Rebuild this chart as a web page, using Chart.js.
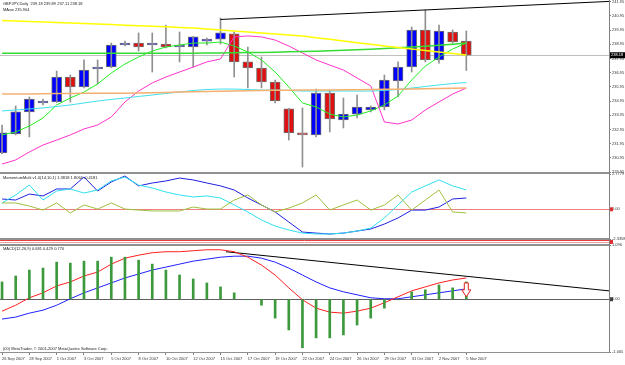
<!DOCTYPE html>
<html>
<head>
<meta charset="utf-8">
<script src="https://cdn.jsdelivr.net/npm/chart.js@4.4.0/dist/chart.umd.min.js"></script>
<style>
  html, body { margin: 0; padding: 0; background: #fff; }
</style>
</head>
<body>
<canvas id="chart" width="625" height="365"></canvas>
<script>
// ---- data ----
var dateTicks = [0, 2, 4, 6, 8, 10, 12, 14, 16, 18, 20, 22, 24, 26, 28, 30, 32, 34];
var dateLabels = ["26 Sep 2007", "28 Sep 2007", "1 Oct 2007", "3 Oct 2007", "5 Oct 2007", "8 Oct 2007",
  "10 Oct 2007", "12 Oct 2007", "15 Oct 2007", "17 Oct 2007", "19 Oct 2007", "22 Oct 2007",
  "24 Oct 2007", "26 Oct 2007", "29 Oct 2007", "31 Oct 2007", "2 Nov 2007", "5 Nov 2007"];

var opens  = [231.30,232.64,234.19,234.82,234.89,236.65,235.95,237.21,237.35,238.90,239.04,238.90,238.97,238.76,238.76,239.18,239.32,239.68,237.71,237.28,236.30,234.40,232.64,232.57,235.52,233.62,234.04,234.33,234.54,236.37,237.35,239.96,237.85,239.82,239.18];
var highs  = [233.27,234.61,235.24,235.10,237.07,236.79,237.85,237.85,239.04,239.18,239.75,239.75,240.31,239.82,239.50,239.39,240.80,239.82,238.76,238.06,236.44,234.45,234.47,235.80,235.73,235.17,235.38,234.61,236.79,237.71,240.17,241.37,240.31,239.96,239.89];
var lows   = [231.25,232.57,232.43,234.68,234.85,234.89,235.88,236.16,237.30,238.83,238.48,237.00,238.69,237.71,237.35,238.90,238.97,236.65,235.88,235.88,234.82,232.21,230.31,232.43,232.78,233.06,233.76,234.19,234.33,235.24,237.00,237.71,237.63,239.04,237.11];
var closes = [232.71,234.19,235.10,234.96,236.65,235.95,237.14,237.35,238.90,239.04,238.76,238.97,238.76,238.90,239.47,239.32,239.75,237.71,237.28,236.30,234.96,232.71,232.57,235.52,233.69,234.04,234.54,234.54,236.44,237.35,239.96,237.85,239.89,239.11,238.18];

var maYellow  = [240.63,240.59,240.56,240.52,240.49,240.45,240.42,240.38,240.34,240.30,240.26,240.22,240.18,240.14,240.10,240.03,239.96,239.89,239.82,239.75,239.68,239.61,239.54,239.42,239.30,239.18,239.06,238.95,238.83,238.73,238.62,238.52,238.41,238.30,238.20];
var maLime    = [232.57,232.78,233.20,233.76,234.68,235.17,235.59,236.16,236.93,237.56,238.06,238.48,238.76,238.90,239.04,239.04,239.11,238.83,238.41,237.85,237.00,235.95,234.82,234.54,234.04,233.83,233.97,234.26,234.68,235.31,236.44,237.42,238.06,238.62,239.04];
var maGreen   = [238.32,238.32,238.32,238.32,238.32,238.32,238.32,238.32,238.32,238.32,238.32,238.32,238.32,238.32,238.32,238.33,238.34,238.35,238.37,238.38,238.40,238.42,238.44,238.47,238.49,238.53,238.56,238.61,238.66,238.70,238.76,238.82,238.88,238.96,239.04];
var maCyan    = [234.26,234.33,234.40,234.47,234.57,234.68,234.82,234.96,235.07,235.17,235.28,235.38,235.49,235.59,235.70,235.77,235.80,235.80,235.77,235.73,235.73,235.70,235.66,235.66,235.66,235.66,235.66,235.66,235.70,235.77,235.87,235.98,236.09,236.19,236.26];
var maOrange  = [235.45,235.46,235.46,235.47,235.48,235.49,235.50,235.50,235.51,235.51,235.52,235.54,235.56,235.59,235.61,235.63,235.65,235.66,235.68,235.70,235.71,235.72,235.73,235.73,235.74,235.75,235.76,235.77,235.78,235.79,235.80,235.82,235.84,235.85,235.87];
var maMagenta = [230.52,230.81,231.37,231.86,232.21,232.57,232.99,233.27,233.83,234.89,235.66,236.23,236.65,237.00,237.35,237.71,237.92,239.47,239.54,239.47,239.25,238.83,238.34,237.85,237.49,237.14,236.58,236.02,233.48,233.34,233.62,234.33,234.89,235.45,235.87];

var trendBars   = [16, 44.45];
var trendPrices = [240.70, 241.97];
var lastClose = 238.18;
var priceTicks = [241.95,240.95,239.95,238.95,237.95,236.95,235.95,234.95,233.95,232.95,231.95,230.95,229.95];

var momBlue  = [0.81,0.73,1.20,1.05,1.60,1.60,2.54,1.44,2.15,2.62,1.84,2.07,2.23,2.46,2.31,2.07,1.84,1.52,0.89,0.34,-0.21,-1.00,-1.79,-1.87,-1.94,-1.87,-1.71,-1.55,-1.16,-0.68,-0.06,-0.06,0.18,0.81,0.89];
var momCyan  = [0.50,1.13,1.91,0.73,1.44,1.60,1.28,1.52,2.23,2.54,1.91,1.68,1.36,1.13,0.97,1.05,0.89,0.34,-0.21,-0.84,-1.32,-1.63,-1.87,-1.94,-1.94,-1.87,-1.71,-1.48,-0.68,0.34,1.36,1.84,2.31,1.84,1.52];
var momOlive = [0.50,0.50,0.26,-0.06,0.50,-0.29,0.34,0.02,0.50,0.02,-0.06,-0.13,-0.13,-0.13,0.18,0.02,0.02,0.73,1.13,0.34,-0.21,0.10,0.50,1.13,-0.06,0.34,0.73,-0.06,0.34,1.13,-0.06,0.73,1.52,-0.21,-0.29];
var momTicks = [2.7779, 0, -2.3358];
var momTickText = ["2.7779", "0.00", "-2.3358"];

var macdHist = [0.35,0.47,0.59,0.63,0.75,0.73,0.77,0.77,0.85,0.85,0.79,0.71,0.59,0.49,0.41,0.33,0.25,0.13,-0.01,-0.12,-0.38,-0.62,-0.98,-0.78,-0.78,-0.72,-0.52,-0.38,-0.18,-0.01,0.15,0.19,0.29,0.23,0.35];
var macdRed  = [-0.24,-0.12,0.03,0.13,0.27,0.35,0.47,0.55,0.71,0.83,0.89,0.94,0.96,0.96,0.98,1.00,1.00,0.96,0.85,0.69,0.49,0.23,-0.01,-0.18,-0.26,-0.28,-0.24,-0.18,-0.07,0.05,0.17,0.25,0.33,0.39,0.43];
var macdBlue = [-0.40,-0.36,-0.28,-0.22,-0.12,0.01,0.13,0.23,0.33,0.43,0.51,0.59,0.65,0.71,0.77,0.81,0.85,0.87,0.87,0.83,0.75,0.63,0.49,0.35,0.23,0.15,0.09,0.03,0.01,0.01,0.05,0.09,0.13,0.17,0.21];
var macdTrendBars = [16.4, 44.45];
var macdTrendVals = [0.96, 0.17];
var macdTicks = [1.096, 0, -1.065];
var macdTickText = ["1.096", "0.00", "-1.065"];
var arrowBar = 34, arrowTop = 0.33, arrowTip = 0.05;

// ---- helpers ----
function pts(arr) {
  return arr.map(function(v, i) { return {x: i, y: v}; });
}
function pairs(xs, ys) {
  return xs.map(function(x, i) { return {x: x, y: ys[i]}; });
}
var small = {size: 4, family: 'Liberation Sans'};

function rightAxis(weight, min, max, ticks, texts, showTicks) {
  return {
    position: 'right', stack: 'panels', stackWeight: weight, min: min, max: max,
    afterBuildTicks: function(s) { s.ticks = ticks.map(function(v) { return {value: v}; }); },
    afterFit: function(s) { s.width = 16; s.paddingTop = 0; s.paddingBottom = 0; },
    grid: {drawOnChartArea: false, drawTicks: showTicks, tickLength: 2, color: '#808080'},
    border: {color: '#808080'},
    ticks: {
      display: showTicks, font: small, color: '#333', padding: 1, autoSkip: false,
      callback: function(v, i) { return texts ? texts[i] : v.toFixed(2); }
    }
  };
}

function lineSet(data, axis, color, width) {
  return {type: 'line', data: data, yAxisID: axis, borderColor: color, borderWidth: width || 1,
    pointRadius: 0, tension: 0, fill: false};
}

var bodyColors = opens.map(function(o, i) { return closes[i] >= o ? '#0000ff' : '#e01010'; });

var mt4 = {
  id: 'mt4',
  beforeDraw: function(chart) {
    var ctx = chart.ctx;
    ctx.save();
    ctx.fillStyle = '#fff';
    ctx.fillRect(0, 0, chart.width, chart.height);
    ctx.restore();
  },
  beforeDatasetsDraw: function(chart) {
    var ctx = chart.ctx, a = chart.chartArea, s = chart.scales;
    ctx.save();
    ctx.lineWidth = 1;
    var yb = Math.round(s.y.getPixelForValue(lastClose)) + 0.5;
    ctx.strokeStyle = '#c0c0c0';
    ctx.beginPath(); ctx.moveTo(a.left, yb); ctx.lineTo(a.right, yb); ctx.stroke();
    var ym = Math.round(s.ym.getPixelForValue(0)) + 0.5;
    ctx.strokeStyle = '#f08080';
    ctx.beginPath(); ctx.moveTo(a.left, ym); ctx.lineTo(a.right, ym); ctx.stroke();
    var yd = Math.round(s.yd.getPixelForValue(0)) + 0.5;
    ctx.strokeStyle = '#606060';
    ctx.beginPath(); ctx.moveTo(a.left, yd); ctx.lineTo(a.right, yd); ctx.stroke();
    // thin red panel
    ctx.strokeStyle = '#e04040';
    ctx.beginPath(); ctx.moveTo(a.left, s.yx.top + 1.5); ctx.lineTo(a.right, s.yx.top + 1.5); ctx.stroke();
    ctx.strokeStyle = '#f0a0a0';
    ctx.beginPath(); ctx.moveTo(a.left, s.yx.top + 3.5); ctx.lineTo(a.right, s.yx.top + 3.5); ctx.stroke();
    ctx.restore();
  },
  afterDraw: function(chart) {
    var ctx = chart.ctx, a = chart.chartArea, s = chart.scales;
    ctx.save();
    // panel separators
    ctx.fillStyle = '#909090';
    ctx.fillRect(0, s.y.bottom - 2, a.right, 2);
    ctx.fillRect(0, s.ym.bottom - 1, a.right, 2);
    ctx.fillRect(0, s.yx.bottom - 1, a.right, 2);
    ctx.fillRect(0, a.bottom, a.right + 1, 1);
    // headers
    ctx.fillStyle = '#222';
    ctx.font = '4px "Liberation Sans"';
    ctx.textBaseline = 'middle';
    ctx.textAlign = 'left';
    ctx.fillText('GBPJPY,Daily  239.18 239.89 237.11 238.18', 3, 4);
    ctx.fillText('MAvw 235.904', 3, 10);
    ctx.fillText('MomentumMulti v1.0(14,10,1) 1.3818 1.8064 -0.4181', 3, s.ym.top + 4);
    ctx.fillText('MACD(12,26,9) 0.681 0.429 0.770', 3, s.yd.top + 4);
    ctx.fillText('(00) MetaTrader, \u00a9 2001-2007 MetaQuotes Software Corp.', 3, a.bottom - 3);
    // current price box
    var yb = s.y.getPixelForValue(lastClose);
    ctx.fillStyle = '#000';
    ctx.fillRect(a.right + 1, yb - 3, 15, 6);
    ctx.fillStyle = '#fff';
    ctx.fillText(lastClose.toFixed(2), a.right + 2, yb);
    // level boxes
    ctx.fillStyle = '#e03030';
    ctx.fillRect(a.right + 1, s.ym.getPixelForValue(0) - 2, 3, 4);
    ctx.fillRect(a.right + 1, s.yx.top + 1, 3, 4);
    ctx.fillStyle = '#404040';
    ctx.fillRect(a.right + 1, s.yd.getPixelForValue(0) - 2, 3, 4);
    // red arrow
    var ax = s.x.getPixelForValue(arrowBar);
    var y0 = s.yd.getPixelForValue(arrowTop), y1 = s.yd.getPixelForValue(arrowTip);
    var ymid = y0 + (y1 - y0) * 0.5;
    ctx.strokeStyle = '#e02020';
    ctx.fillStyle = '#fff';
    ctx.lineWidth = 1;
    ctx.beginPath();
    ctx.moveTo(ax - 2, y0); ctx.lineTo(ax + 2, y0); ctx.lineTo(ax + 2, ymid);
    ctx.lineTo(ax + 4.5, ymid); ctx.lineTo(ax, y1); ctx.lineTo(ax - 4.5, ymid);
    ctx.lineTo(ax - 2, ymid); ctx.closePath();
    ctx.fill(); ctx.stroke();
    ctx.restore();
  }
};

new Chart(document.getElementById('chart'), {
  type: 'bar',
  data: {
    datasets: [
      lineSet(pts(maYellow), 'y', '#ffff00', 1.5),
      lineSet(pts(maGreen), 'y', '#33dd33', 1.5),
      lineSet(pts(maOrange), 'y', '#f4b070', 1.5),
      lineSet(pts(maCyan), 'y', '#40e0f0', 1),
      lineSet(pts(maMagenta), 'y', '#ff33cc', 1),
      lineSet(pts(maLime), 'y', '#22ee22', 1),
      lineSet(pairs(trendBars, trendPrices), 'y', '#000000', 1),
      {
        data: highs.map(function(h, i) { return {x: i, y: [lows[i], h]}; }),
        yAxisID: 'y', grouped: false, barThickness: 1, backgroundColor: '#909090'
      },
      {
        data: opens.map(function(o, i) { return {x: i, y: [o, closes[i]]}; }),
        yAxisID: 'y', grouped: false, barThickness: 10, minBarLength: 2,
        backgroundColor: bodyColors, borderColor: '#707070', borderWidth: 1, borderSkipped: false
      },
      lineSet(pts(momOlive), 'ym', '#a0c040', 1),
      lineSet(pts(momCyan), 'ym', '#30e0f0', 1),
      lineSet(pts(momBlue), 'ym', '#2020e0', 1),
      {
        data: pts(macdHist), yAxisID: 'yd', grouped: false, barThickness: 2,
        backgroundColor: '#3c9a3c'
      },
      lineSet(pts(macdRed), 'yd', '#ff2020', 1),
      lineSet(pts(macdBlue), 'yd', '#2020ff', 1),
      lineSet(pairs(macdTrendBars, macdTrendVals), 'yd', '#000000', 1)
    ]
  },
  options: {
    responsive: false,
    animation: false,
    devicePixelRatio: 1,
    layout: {padding: 0},
    plugins: {legend: {display: false}, tooltip: {enabled: false}},
    scales: {
      x: {
        type: 'linear', position: 'bottom', min: -0.15, max: 44.45, offset: false,
        afterBuildTicks: function(s) { s.ticks = dateTicks.map(function(v) { return {value: v}; }); },
        afterFit: function(s) { s.height = 13; s.paddingLeft = 0; s.paddingRight = 0; },
        grid: {drawOnChartArea: false, offset: false, tickLength: 3, color: '#808080'},
        border: {color: '#808080'},
        ticks: {
          font: small, color: '#333', padding: 1, align: 'start', maxRotation: 0, autoSkip: false,
          callback: function(v, i) { return dateLabels[i]; }
        }
      },
      y: rightAxis(174, 229.82, 242.07, priceTicks, null, true),
      ym: rightAxis(65, -2.3358, 2.7779, momTicks, momTickText, true),
      yx: rightAxis(6, 0, 1, [], null, false),
      yd: rightAxis(107, -1.065, 1.096, macdTicks, macdTickText, true)
    }
  },
  plugins: [mt4]
});
</script>
</body>
</html>
